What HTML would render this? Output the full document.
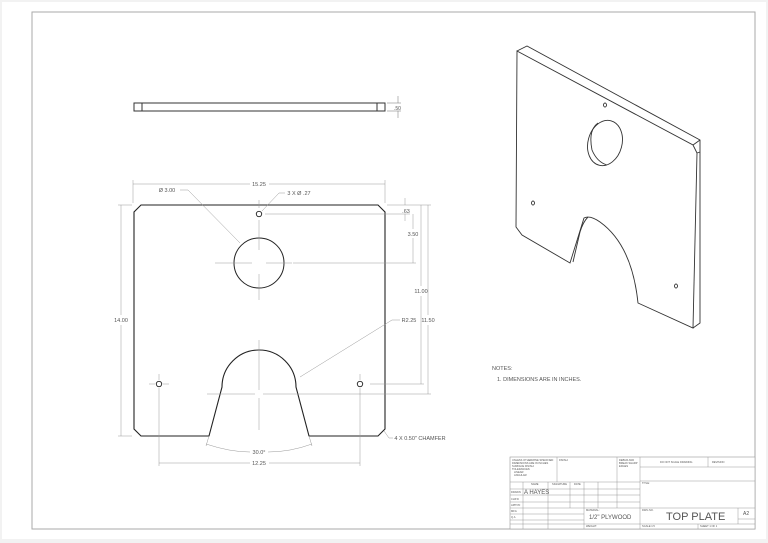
<!DOCTYPE html>
<html><head><meta charset="utf-8"><style>
html,body{margin:0;padding:0;background:#fff}
svg{display:block}
text{font-family:"Liberation Sans",sans-serif;fill:#555}
</style></head><body>
<svg width="768" height="543" viewBox="0 0 768 543" xmlns="http://www.w3.org/2000/svg">
<rect x="0" y="0" width="768" height="543" fill="#f2f2f2"/>
<rect x="2" y="2" width="764" height="537" fill="#fff"/>
<rect x="32" y="12" width="723" height="517" fill="none" stroke="#aaa" stroke-width="1"/>

<!-- side view -->
<g stroke="#333" fill="none" stroke-width="1">
<rect x="134" y="103" width="251" height="8"/>
<line x1="142" y1="103" x2="142" y2="111"/>
<line x1="377" y1="103" x2="377" y2="111"/>
</g>
<g stroke="#888" stroke-width="0.6" fill="none">
<line x1="387" y1="103" x2="401" y2="103"/><line x1="387" y1="111" x2="401" y2="111"/>
<line x1="398" y1="96" x2="398" y2="103"/><line x1="398" y1="111" x2="398" y2="118"/>
</g>
<text x="394" y="110" font-size="5">.50</text>

<!-- main plate -->
<path d="M141,205 L378,205 L385,212 L385,429 L378,436 L309,436 L296,387 A37,37 0 0 0 222,387 L209,436 L141,436 L134,429 L134,212 Z" fill="none" stroke="#222" stroke-width="1.1"/>
<circle cx="259" cy="263" r="25" fill="none" stroke="#222" stroke-width="1"/>
<circle cx="259" cy="214" r="2.7" fill="none" stroke="#222" stroke-width="0.9"/>
<circle cx="159" cy="384" r="2.7" fill="none" stroke="#222" stroke-width="0.9"/>
<circle cx="360" cy="384" r="2.7" fill="none" stroke="#222" stroke-width="0.9"/>

<g stroke="#999" stroke-width="0.5" fill="none">
<line x1="259" y1="200" x2="259" y2="208"/><line x1="259" y1="220" x2="259" y2="250"/>
<line x1="215" y1="263" x2="252" y2="263"/><line x1="266" y1="263" x2="292" y2="263"/><line x1="293" y1="263" x2="416" y2="263"/>
<line x1="259" y1="274" x2="259" y2="300"/><line x1="259" y1="340" x2="259" y2="390"/><line x1="259" y1="398" x2="259" y2="430"/>
<line x1="207" y1="394" x2="255" y2="394"/><line x1="263" y1="394" x2="431" y2="394"/>
<line x1="149" y1="384" x2="155" y2="384"/><line x1="163" y1="384" x2="169" y2="384"/>
<line x1="159" y1="374" x2="159" y2="380"/><line x1="159" y1="388" x2="159" y2="466"/>
<line x1="360" y1="374" x2="360" y2="380"/><line x1="360" y1="388" x2="360" y2="466"/>
<line x1="370" y1="384" x2="424" y2="384"/>
<line x1="265" y1="214" x2="410" y2="214"/>
<line x1="133" y1="180" x2="133" y2="203"/><line x1="385" y1="180" x2="385" y2="203"/>
<line x1="133" y1="184" x2="250" y2="184"/><line x1="269" y1="184" x2="385" y2="184"/>
<line x1="118" y1="205" x2="132" y2="205"/><line x1="118" y1="436" x2="132" y2="436"/>
<line x1="121" y1="205" x2="121" y2="315"/><line x1="121" y1="325" x2="121" y2="436"/>
<line x1="387" y1="205" x2="431" y2="205"/>
<line x1="405" y1="198" x2="405" y2="205"/><line x1="405" y1="214" x2="405" y2="221"/>
<line x1="413" y1="214" x2="413" y2="229"/><line x1="413" y1="238" x2="413" y2="263"/>
<line x1="421" y1="205" x2="421" y2="286"/><line x1="421" y1="296" x2="421" y2="384"/>
<line x1="428" y1="205" x2="428" y2="315"/><line x1="428" y1="325" x2="428" y2="394"/>
<line x1="159" y1="463" x2="250" y2="463"/><line x1="269" y1="463" x2="360" y2="463"/>
<line x1="209" y1="436" x2="206" y2="446"/><line x1="309" y1="436" x2="312" y2="446"/>
<path d="M206,444 Q230,452 250,452"/><path d="M268,452 Q290,452 312,444"/>
<path d="M180,190 L188,190 L240,243"/>
<path d="M262,211 L279,193 L285,193"/>
<path d="M400,320 L392,320 L300,377"/>
<path d="M384,431 L389,438 L393,438"/>
</g>
<g font-size="5.5" text-anchor="middle">
<text x="259" y="186">15.25</text>
<text x="167" y="192">Ø 3.00</text>
<text x="299" y="195">3 X  Ø .27</text>
<text x="406" y="213">.63</text>
<text x="413" y="236">3.50</text>
<text x="421" y="293">11.00</text>
<text x="428" y="322">11.50</text>
<text x="121" y="322">14.00</text>
<text x="409" y="322">R2.25</text>
<text x="259" y="454">30.0°</text>
<text x="259" y="465">12.25</text>
<text x="420" y="440">4 X 0.50" CHAMFER</text>
</g>

<!-- isometric -->
<g stroke="#333" stroke-width="0.9" fill="none">
<path d="M517,51 L527,46 L700,140 L700,323 L693,328"/>
<path d="M517,51 L693,145 L697,153 L693,328 L638,303 Q632,245 600,222 Q590,215 584,218 L570,263 L522,235 L516,227 Z"/>
<line x1="693" y1="145" x2="700" y2="140"/>
<line x1="697" y1="153" x2="700" y2="152"/>
<path d="M588,217 Q583,222 580,232 L573,262"/>
<ellipse cx="605" cy="143" rx="17" ry="23" transform="rotate(15 605 143)"/>
<path d="M598,123 Q588,130 592,150 Q597,162 607,165"/>
<ellipse cx="605" cy="105" rx="1.5" ry="2"/>
<ellipse cx="533" cy="203" rx="1.5" ry="2"/>
<ellipse cx="676" cy="286" rx="1.5" ry="2"/>
</g>

<text x="492" y="370" font-size="5.5">NOTES:</text>
<text x="497" y="381" font-size="5.5">1. DIMENSIONS ARE IN INCHES.</text>

<!-- title block -->
<g stroke="#999" stroke-width="0.6" fill="#fff">
<rect x="510" y="457" width="245" height="72"/>
</g>
<g stroke="#999" stroke-width="0.5" fill="none">
<line x1="557" y1="457" x2="557" y2="482"/>
<line x1="617" y1="457" x2="617" y2="482"/>
<line x1="640" y1="457" x2="640" y2="529"/>
<line x1="640" y1="467" x2="755" y2="467"/>
<line x1="708" y1="457" x2="708" y2="467"/>
<line x1="640" y1="481" x2="755" y2="481"/>
<line x1="640" y1="508" x2="755" y2="508"/>
<line x1="640" y1="524" x2="755" y2="524"/>
<line x1="738" y1="508" x2="738" y2="524"/>
<line x1="738" y1="519" x2="755" y2="519"/>
<line x1="698" y1="524" x2="698" y2="529"/>
<line x1="510" y1="482" x2="640" y2="482"/>
<line x1="510" y1="489" x2="640" y2="489"/>
<line x1="510" y1="495" x2="640" y2="495"/>
<line x1="510" y1="502" x2="640" y2="502"/>
<line x1="510" y1="508" x2="640" y2="508"/>
<line x1="510" y1="514" x2="584" y2="514"/>
<line x1="510" y1="520" x2="584" y2="520"/>
<line x1="510" y1="524" x2="640" y2="524"/>
<line x1="523" y1="482" x2="523" y2="529"/>
<line x1="548" y1="482" x2="548" y2="529"/>
<line x1="570" y1="482" x2="570" y2="508"/>
<line x1="584" y1="482" x2="584" y2="529"/>
<line x1="598" y1="482" x2="598" y2="508"/>
<line x1="617" y1="482" x2="617" y2="508"/>
</g>
<g font-size="2.6" fill="#888">
<text x="512" y="461">UNLESS OTHERWISE SPECIFIED:</text>
<text x="512" y="464">DIMENSIONS ARE IN INCHES</text>
<text x="512" y="467">SURFACE FINISH:</text>
<text x="512" y="470">TOLERANCES:</text>
<text x="514" y="473">LINEAR:</text>
<text x="514" y="476">ANGULAR:</text>
<text x="559" y="461">FINISH:</text>
<text x="619" y="461">DEBUR AND</text>
<text x="619" y="464">BREAK SHARP</text>
<text x="619" y="467">EDGES</text>
<text x="660" y="463">DO NOT SCALE DRAWING</text>
<text x="712" y="463">REVISION</text>
<text x="642" y="484">TITLE:</text>
<text x="531" y="485">NAME</text><text x="552" y="485">SIGNATURE</text><text x="574" y="485">DATE</text>
<text x="511" y="493">DRAWN</text><text x="511" y="500">CHK'D</text><text x="511" y="506">APPV'D</text>
<text x="511" y="512">MFG</text><text x="511" y="518">Q.A</text>
<text x="586" y="511">MATERIAL:</text><text x="586" y="527">WEIGHT:</text>
<text x="642" y="511">DWG NO.</text><text x="642" y="527">SCALE:1:5</text><text x="700" y="527">SHEET 1 OF 1</text>
</g>
<text x="524" y="494" font-size="6">A HAYES</text>
<text x="589" y="519" font-size="6">1/2" PLYWOOD</text>
<text x="666" y="520" font-size="11">TOP PLATE</text>
<text x="743" y="515" font-size="5">A2</text>
</svg>
</body></html>
